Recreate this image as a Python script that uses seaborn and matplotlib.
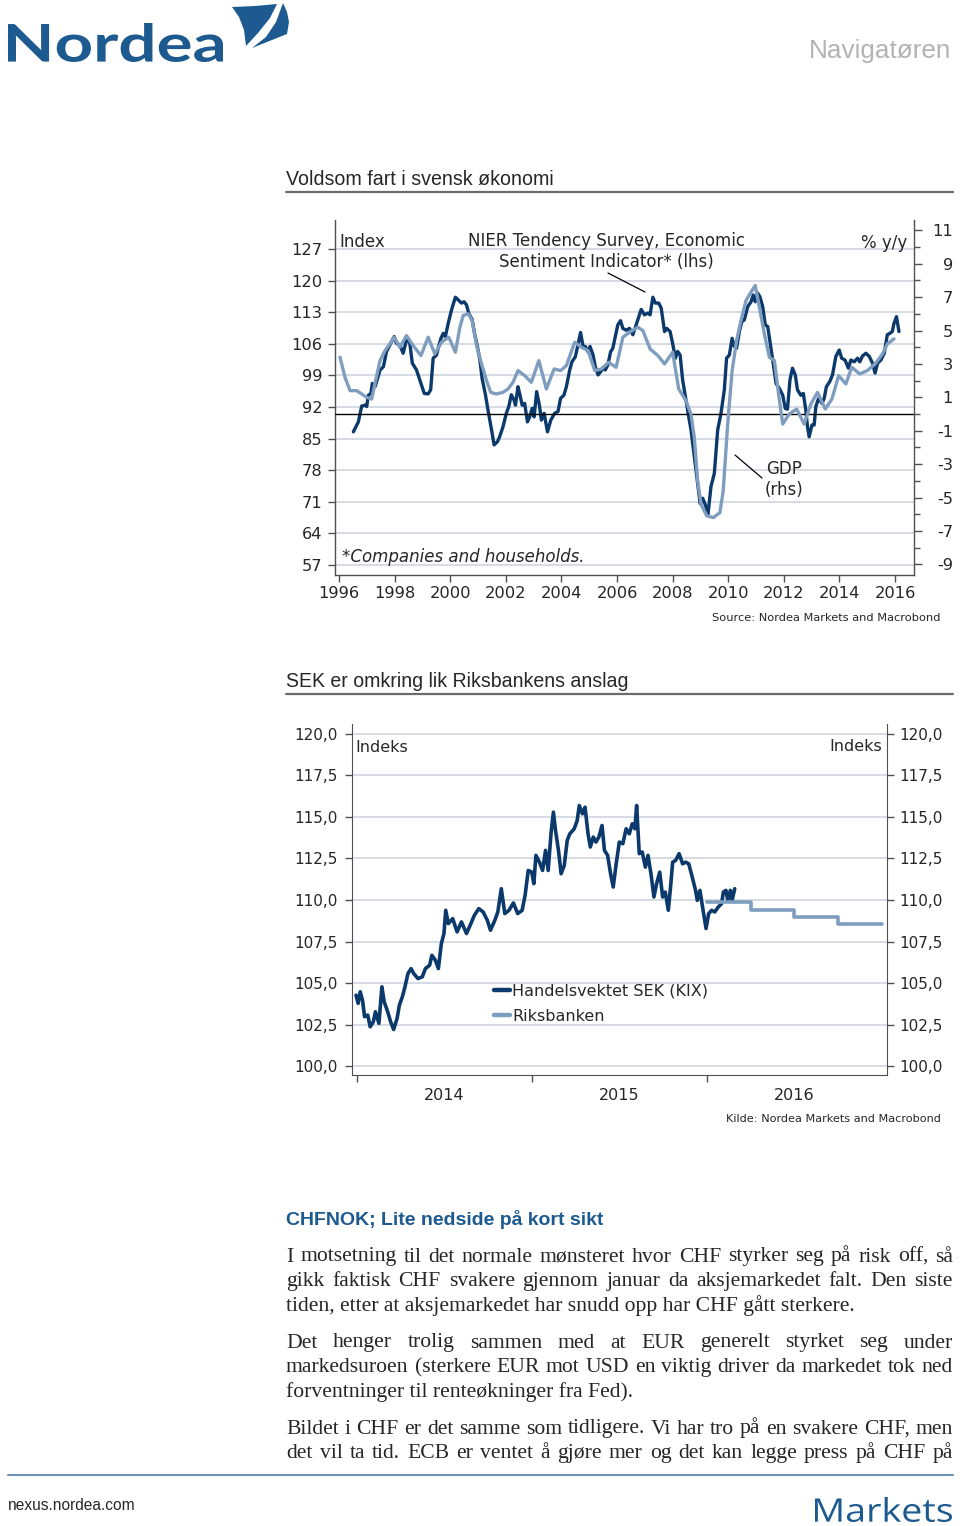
import matplotlib
matplotlib.use("Agg")
import matplotlib.pyplot as plt
import numpy as np
import pandas as pd
import seaborn as sns
from matplotlib.lines import Line2D
from matplotlib.patches import Polygon, PathPatch
from matplotlib.textpath import TextPath
from matplotlib.font_manager import FontProperties
from matplotlib.transforms import Affine2D
from matplotlib.ticker import FixedLocator

W, H = 960, 1526

# --- chart 1: NIER economic sentiment (lhs) vs GDP % y/y (rhs) ---
esi_year = [1996.52, 1996.70, 1996.82, 1996.94, 1997.00, 1997.06, 1997.15, 1997.20, 1997.30, 1997.39,
            1997.48, 1997.60, 1997.71, 1997.83, 1997.99, 1998.07, 1998.19, 1998.31, 1998.40, 1998.47,
            1998.55, 1998.64, 1998.79, 1998.95, 1999.07, 1999.21, 1999.30, 1999.39, 1999.51, 1999.57,
            1999.67, 1999.75, 1999.83, 1999.93, 2000.05, 2000.19, 2000.31, 2000.41, 2000.50, 2000.59,
            2000.67, 2000.79, 2000.89, 2000.98, 2001.07, 2001.15, 2001.27, 2001.37, 2001.49, 2001.58,
            2001.70, 2001.78, 2001.90, 2002.02, 2002.11, 2002.20, 2002.30, 2002.35, 2002.44, 2002.51,
            2002.59, 2002.68, 2002.78, 2002.86, 2002.95, 2003.02, 2003.11, 2003.21, 2003.28, 2003.38,
            2003.50, 2003.62, 2003.76, 2003.88, 2003.97, 2004.09, 2004.18, 2004.30, 2004.38, 2004.50,
            2004.57, 2004.69, 2004.78, 2004.86, 2004.96, 2005.03, 2005.14, 2005.22, 2005.32, 2005.41,
            2005.50, 2005.58, 2005.67, 2005.77, 2005.85, 2005.94, 2006.03, 2006.13, 2006.21, 2006.33,
            2006.45, 2006.57, 2006.69, 2006.87, 2006.99, 2007.11, 2007.19, 2007.29, 2007.38, 2007.50,
            2007.59, 2007.71, 2007.79, 2007.91, 2008.00, 2008.10, 2008.18, 2008.27, 2008.36, 2008.48,
            2008.58, 2008.66, 2008.78, 2008.90, 2008.99, 2009.08, 2009.18, 2009.27, 2009.38, 2009.50,
            2009.62, 2009.74, 2009.86, 2009.94, 2010.04, 2010.14, 2010.22, 2010.30, 2010.40, 2010.49,
            2010.58, 2010.70, 2010.82, 2010.90, 2010.97, 2011.06, 2011.14, 2011.24, 2011.33, 2011.42,
            2011.50, 2011.60, 2011.72, 2011.84, 2011.96, 2012.05, 2012.13, 2012.22, 2012.31, 2012.41,
            2012.49, 2012.61, 2012.70, 2012.79, 2012.85, 2012.91, 2013.01, 2013.09, 2013.15, 2013.25,
            2013.37, 2013.45, 2013.53, 2013.65, 2013.75, 2013.87, 2013.99, 2014.08, 2014.20, 2014.32,
            2014.41, 2014.53, 2014.65, 2014.73, 2014.83, 2014.95, 2015.07, 2015.19, 2015.28, 2015.37,
            2015.49, 2015.61, 2015.72, 2015.81, 2015.90, 2015.96, 2016.05, 2016.14]
esi_value = [86.5, 88.7, 92.2, 92.4, 92.1, 94.6, 95.0, 97.2, 96.5, 98.3,
             100.2, 100.9, 104.2, 105.7, 107.6, 106.1, 105.7, 103.9, 106.1, 107.2,
             106.1, 101.7, 100.2, 97.2, 95.0, 94.9, 95.8, 102.8, 103.5, 105.0,
             107.2, 108.3, 107.6, 110.5, 113.5, 116.3, 115.6, 115.0, 115.3, 114.6,
             112.7, 111.4, 107.9, 105.4, 102.4, 98.3, 94.7, 91.0, 86.9, 83.6,
             84.3, 85.4, 87.6, 90.6, 92.1, 94.7, 93.5, 92.4, 96.5, 94.7,
             92.4, 92.8, 88.7, 89.8, 91.7, 89.8, 95.4, 92.4, 89.1, 90.6,
             86.5, 89.1, 90.6, 91.0, 93.9, 94.6, 96.5, 100.2, 102.0, 103.1,
             105.0, 108.5, 105.4, 105.4, 104.2, 105.4, 103.5, 100.9, 99.1, 99.8,
             100.6, 100.2, 101.3, 104.2, 105.0, 107.6, 110.2, 111.1, 109.4, 109.0,
             109.4, 108.0, 110.2, 113.6, 112.4, 112.8, 112.4, 116.3, 115.0, 115.0,
             113.9, 108.7, 109.4, 108.7, 106.1, 102.8, 104.3, 103.5, 98.0, 93.5,
             89.8, 87.0, 81.0, 75.1, 70.6, 71.8, 70.3, 68.1, 74.4, 77.3,
             86.9, 90.6, 95.8, 102.8, 103.5, 107.2, 105.4, 105.0, 108.7, 110.9,
             111.3, 114.2, 115.3, 116.8, 115.3, 117.2, 116.4, 114.2, 110.2, 109.8,
             106.5, 102.4, 97.2, 96.1, 94.6, 91.7, 91.5, 98.0, 100.6, 99.1,
             95.8, 94.6, 95.0, 91.3, 87.6, 85.4, 88.0, 88.0, 92.1, 93.9,
             92.8, 93.9, 96.5, 97.6, 99.1, 103.2, 104.6, 102.8, 102.4, 100.6,
             102.4, 102.0, 102.8, 102.0, 103.3, 103.9, 103.2, 101.7, 99.5, 101.7,
             102.4, 103.9, 108.0, 108.3, 108.7, 110.5, 112.0, 108.7]

gdp_year = [1996.04, 1996.22, 1996.40, 1996.64, 1996.82, 1997.00, 1997.18, 1997.32, 1997.48, 1997.66,
            1997.83, 1997.99, 1998.19, 1998.43, 1998.67, 1998.95, 1999.21, 1999.45, 1999.69, 1999.95,
            2000.19, 2000.35, 2000.47, 2000.65, 2000.79, 2000.95, 2001.13, 2001.31, 2001.46, 2001.66,
            2001.90, 2002.08, 2002.26, 2002.44, 2002.68, 2002.92, 2003.19, 2003.46, 2003.74, 2003.97,
            2004.18, 2004.48, 2004.72, 2004.96, 2005.20, 2005.44, 2005.70, 2005.97, 2006.21, 2006.45,
            2006.75, 2006.93, 2007.19, 2007.47, 2007.71, 2008.00, 2008.22, 2008.48, 2008.66, 2008.78,
            2008.90, 2009.02, 2009.23, 2009.47, 2009.70, 2009.82, 2009.98, 2010.14, 2010.30, 2010.46,
            2010.64, 2010.82, 2010.97, 2011.12, 2011.30, 2011.48, 2011.66, 2011.81, 2011.96, 2012.19,
            2012.46, 2012.73, 2012.97, 2013.21, 2013.49, 2013.73, 2013.97, 2014.23, 2014.44, 2014.73,
            2015.00, 2015.28, 2015.55, 2015.72, 2015.96]
gdp_value = [3.4, 2.2, 1.4, 1.4, 1.2, 1.0, 0.9, 2.0, 3.2, 3.8,
             4.2, 4.6, 4.0, 4.7, 4.1, 3.5, 4.6, 3.6, 4.3, 4.6,
             3.7, 5.2, 5.9, 6.0, 5.6, 4.1, 3.0, 2.0, 1.3, 1.2,
             1.3, 1.5, 1.9, 2.6, 2.3, 1.9, 3.2, 1.5, 2.7, 2.6,
             2.9, 4.3, 4.0, 3.8, 2.6, 2.7, 3.1, 2.8, 4.6, 4.9,
             5.2, 5.0, 3.9, 3.5, 3.0, 3.7, 1.5, 0.8, 0.0, -1.4,
             -4.0, -5.4, -6.1, -6.2, -5.9, -4.6, -0.6, 2.6, 4.4, 5.6,
             6.8, 7.3, 7.7, 6.4, 4.8, 3.4, 3.2, 1.2, -0.6, 0.0,
             0.3, -0.6, 0.6, 1.3, 0.3, 0.9, 2.3, 1.8, 2.8, 2.4,
             2.6, 3.0, 3.6, 4.2, 4.5]

esi_ticks = [57, 64, 71, 78, 85, 92, 99, 106, 113, 120, 127]
gdp_ticks = [-9, -7, -5, -3, -1, 1, 3, 5, 7, 9, 11]
year_ticks = [1996, 1998, 2000, 2002, 2004, 2006, 2008, 2010, 2012, 2014, 2016]

# --- chart 2: trade weighted SEK (KIX) vs Riksbank forecast ---
kix_year = [2013.993, 2014.005, 2014.017, 2014.030, 2014.042, 2014.060, 2014.074, 2014.092, 2014.104, 2014.124,
            2014.141, 2014.154, 2014.174, 2014.191, 2014.208, 2014.228, 2014.241, 2014.258, 2014.273, 2014.290,
            2014.308, 2014.323, 2014.347, 2014.372, 2014.390, 2014.414, 2014.427, 2014.447, 2014.464, 2014.481,
            2014.496, 2014.506, 2014.521, 2014.546, 2014.571, 2014.596, 2014.625, 2014.650, 2014.670, 2014.695,
            2014.720, 2014.744, 2014.762, 2014.787, 2014.804, 2014.824, 2014.844, 2014.868, 2014.893, 2014.918,
            2014.943, 2014.960, 2014.978, 2014.998, 2015.010, 2015.022, 2015.042, 2015.060, 2015.077, 2015.092,
            2015.109, 2015.122, 2015.134, 2015.151, 2015.166, 2015.184, 2015.201, 2015.216, 2015.241, 2015.258,
            2015.270, 2015.288, 2015.303, 2015.320, 2015.333, 2015.350, 2015.365, 2015.382, 2015.400, 2015.414,
            2015.432, 2015.449, 2015.464, 2015.481, 2015.499, 2015.519, 2015.538, 2015.556, 2015.573, 2015.588,
            2015.598, 2015.613, 2015.630, 2015.648, 2015.663, 2015.680, 2015.697, 2015.712, 2015.730, 2015.747,
            2015.762, 2015.779, 2015.792, 2015.804, 2015.821, 2015.841, 2015.861, 2015.878, 2015.896, 2015.916,
            2015.935, 2015.945, 2015.960, 2015.978, 2015.995, 2016.010, 2016.027, 2016.045, 2016.065, 2016.084,
            2016.094, 2016.109, 2016.119, 2016.134, 2016.144, 2016.159]
kix_value = [104.27, 103.77, 104.47, 103.97, 102.97, 103.07, 102.36, 102.67, 103.27, 102.57,
             104.77, 103.87, 103.27, 102.67, 102.20, 102.87, 103.67, 104.17, 104.77, 105.57,
             105.87, 105.57, 105.27, 105.37, 105.87, 106.07, 106.67, 106.37, 105.87, 107.37,
             107.98, 109.38, 108.58, 108.88, 108.08, 108.68, 107.98, 108.58, 109.08, 109.48,
             109.28, 108.78, 108.18, 108.78, 109.28, 110.68, 109.18, 109.38, 109.82, 109.18,
             109.38, 110.28, 111.78, 111.68, 110.98, 112.69, 112.28, 111.78, 112.99, 111.78,
             114.09, 115.29, 114.19, 112.99, 111.58, 112.08, 113.59, 113.99, 114.29, 114.79,
             115.69, 115.19, 115.59, 113.99, 113.19, 113.79, 113.49, 113.79, 114.49, 112.99,
             112.69, 111.58, 110.78, 112.18, 113.49, 113.39, 114.29, 113.99, 114.59, 114.29,
             115.69, 112.79, 112.89, 111.98, 112.69, 111.58, 110.18, 110.98, 111.68, 110.18,
             110.48, 109.38, 110.78, 112.28, 112.38, 112.79, 112.18, 112.28, 112.18, 111.38,
             110.58, 109.98, 110.58, 109.38, 108.28, 109.18, 109.38, 109.28, 109.58, 109.78,
             110.48, 110.58, 109.98, 110.58, 109.98, 110.68]

rb_year = [2016.0, 2016.25, 2016.5, 2016.75, 2017.0]
rb_value = [109.85, 109.4, 108.95, 108.55, 108.55]

sek_ticks = [100.0, 102.5, 105.0, 107.5, 110.0, 112.5, 115.0, 117.5, 120.0]
sek_year_bounds = [2014, 2015, 2016]
sek_year_labels = ["2014", "2015", "2016"]

body = [
    ["I motsetning til det normale mønsteret hvor CHF styrker seg på risk off, så",
     "gikk faktisk CHF svakere gjennom januar da aksjemarkedet falt. Den siste",
     "tiden, etter at aksjemarkedet har snudd opp har CHF gått sterkere."],
    ["Det henger trolig sammen med at EUR generelt styrket seg under",
     "markedsuroen (sterkere EUR mot USD en viktig driver da markedet tok ned",
     "forventninger til renteøkninger fra Fed)."],
    ["Bildet i CHF er det samme som tidligere. Vi har tro på en svakere CHF, men",
     "det vil ta tid. ECB er ventet å gjøre mer og det kan legge press på CHF på"],
]

DARK = "#0c396c"
LIGHT = "#7f9dbf"
GRID = "#d6dce4"
SPINE = "#505050"
BLUE = "#1d5a90"

sns.set_style("ticks")
plt.rcParams["font.family"] = ["DejaVu Sans"]
plt.rcParams["axes.unicode_minus"] = False

fig = plt.figure(figsize=(W / 100, H / 100), dpi=100)
renderer = fig.canvas.get_renderer()


def fx(x):
    return x / W


def fy(y):
    return 1 - y / H


def rect(l, t, r, b):
    return [l / W, 1 - b / H, (r - l) / W, (b - t) / H]


def fit_text(x, y, s, width, ha="left", **kw):
    t = fig.text(fx(x), fy(y), s, ha=ha, va="baseline", fontsize=10, **kw)
    w = t.get_window_extent(renderer).width
    t.set_fontsize(10 * width / w)
    return t


def path_text(s, x0, x1, ytop, ybot, prop, color):
    tp = TextPath((0, 0), s, size=100, prop=prop)
    bb = tp.get_extents()
    sx = (x1 - x0) / bb.width
    sy = (ybot - ytop) / bb.height
    tr = (Affine2D().translate(-bb.x0, -bb.y0).scale(sx / W, sy / H)
          .translate(fx(x0), fy(ybot)) + fig.transFigure)
    fig.add_artist(PathPatch(tp, transform=tr, fc=color, ec="none"))


def hline(x0, x1, y, color, lw):
    fig.add_artist(Line2D([fx(x0), fx(x1)], [fy(y), fy(y)], color=color, lw=lw,
                          transform=fig.transFigure))


def seg(x0, y0, x1, y1):
    fig.add_artist(Line2D([fx(x0), fx(x1)], [fy(y0), fy(y1)], color="black", lw=0.9,
                          transform=fig.transFigure))


# ---------------- header ----------------
path_text("Nordea", 8, 223, 23, 62, FontProperties(family="Lato", weight="bold"), BLUE)
sail_a = np.array([(232, 7), (255, 6), (277, 4), (270, 18), (258, 33), (246, 46), (244, 30), (239, 17)], float)
sail_b = np.array([(283, 3), (287, 12), (289, 22), (287, 34), (252, 48), (266, 37), (276, 22)], float)
for s in (sail_a, sail_b):
    fig.add_artist(Polygon(np.column_stack([s[:, 0] / W, 1 - s[:, 1] / H]), closed=True,
                           fc=BLUE, ec="none", transform=fig.transFigure))
fit_text(951, 58, "Navigatøren", 143, ha="right", color="#b3b3b3",
         family=["Liberation Sans Narrow", "Liberation Sans"])

# ---------------- chart 1 ----------------
fit_text(286, 185, "Voldsom fart i svensk økonomi", 267, family=["Liberation Sans"])
hline(286, 953, 192, "#6b6b6b", 1.6)

ax1 = fig.add_axes(rect(335, 220, 914, 575))
ax1.set_facecolor("none")
sns.lineplot(x=esi_year, y=esi_value, ax=ax1, color=DARK, lw=2.4)
ax1.set_xlim(1995.86, 2016.68)
ax1.set_ylim(54.8, 133.4)
ax1.set_yticks(esi_ticks)
ax1.set_xticks(year_ticks)
ax1.yaxis.grid(True, color=GRID, lw=1.4)
ax1.set_axisbelow(True)
ax1.tick_params(axis="y", length=5, width=1, color=SPINE, labelsize=11.7, pad=4)
ax1.tick_params(axis="x", length=5, width=1, color=SPINE, labelsize=11.7, pad=3)
for side in ("top", "right"):
    ax1.spines[side].set_visible(False)
for side in ("left", "bottom"):
    ax1.spines[side].set_color(SPINE)
    ax1.spines[side].set_linewidth(1)
ax1.set_xlabel("")
ax1.set_ylabel("")

ax1r = ax1.twinx()
ax1r.axhline(0, color="black", lw=1.0, zorder=1)
sns.lineplot(x=gdp_year, y=gdp_value, ax=ax1r, color=LIGHT, lw=2.4, zorder=3)
ax1r.set_ylim(-9.64, 11.62)
ax1r.set_yticks(gdp_ticks)
ax1r.yaxis.set_minor_locator(FixedLocator([-8, -6, -4, -2, 0, 2, 4, 6, 8, 10]))
ax1r.tick_params(axis="y", which="major", length=6, width=1, color=SPINE, labelsize=11.7, pad=22)
ax1r.tick_params(axis="y", which="minor", length=4, width=1, color=SPINE)
for lab in ax1r.get_yticklabels():
    lab.set_horizontalalignment("right")
for side in ("top", "left", "bottom"):
    ax1r.spines[side].set_visible(False)
ax1r.spines["right"].set_color(SPINE)
ax1r.spines["right"].set_linewidth(1)
ax1r.set_ylabel("")

fig.text(fx(339), fy(247), "Index", fontsize=12, va="baseline")
fig.text(fx(907), fy(248), "% y/y", fontsize=12, va="baseline", ha="right")
fig.text(fx(607), fy(246), "NIER Tendency Survey, Economic", fontsize=12, va="baseline", ha="center")
fig.text(fx(606), fy(267), "Sentiment Indicator* (lhs)", fontsize=12, va="baseline", ha="center")
seg(608, 273, 645, 292)
fig.text(fx(784), fy(474), "GDP", fontsize=12, va="baseline", ha="center")
fig.text(fx(784), fy(495), "(rhs)", fontsize=12, va="baseline", ha="center")
seg(735, 455, 762, 478)
fig.text(fx(342), fy(562), "*Companies and households.", fontsize=12, va="baseline", style="italic")
fit_text(941, 621, "Source: Nordea Markets and Macrobond", 228, ha="right")

# ---------------- chart 2 ----------------
fit_text(286, 687, "SEK er omkring lik Riksbankens anslag", 342, family=["Liberation Sans"])
hline(286, 953, 694, "#6b6b6b", 1.6)

ax2 = fig.add_axes(rect(352, 724, 887, 1075))
sns.lineplot(x=kix_year, y=kix_value, ax=ax2, color=DARK, lw=2.6, label="Handelsvektet SEK (KIX)")
sns.lineplot(x=rb_year, y=rb_value, ax=ax2, color=LIGHT, lw=2.6, drawstyle="steps-post",
             label="Riksbanken")
ax2.set_xlim(2013.97, 2017.03)
ax2.set_ylim(99.46, 120.6)
ax2.set_yticks(sek_ticks)
ax2.set_yticklabels([f"{v:.1f}".replace(".", ",") for v in sek_ticks])
ax2.yaxis.grid(True, color=GRID, lw=1.4)
ax2.set_axisbelow(True)
ax2.set_xticks(sek_year_bounds)
ax2.set_xticklabels([])
ax2.set_xticks([y + 0.5 for y in sek_year_bounds], minor=True)
ax2.set_xticklabels(sek_year_labels, minor=True)
ax2.tick_params(axis="x", which="major", length=5, width=1, color=SPINE)
ax2.tick_params(axis="x", which="minor", length=0, labelsize=11.5, pad=9)
ax2.tick_params(axis="y", length=5, width=1, color=SPINE, labelsize=11, pad=5)
for side in ("top", "right"):
    ax2.spines[side].set_visible(False)
for side in ("left", "bottom"):
    ax2.spines[side].set_color(SPINE)
ax2.set_xlabel("")
ax2.set_ylabel("")
leg = ax2.legend(loc="upper left", bbox_to_anchor=(fx(494), fy(984)), bbox_transform=fig.transFigure,
                 frameon=False, fontsize=11.5, handlelength=1.0, handletextpad=0.15,
                 labelspacing=0.6, borderpad=0, borderaxespad=0)
for h in leg.get_lines():
    h.set_linewidth(3.2)

ax2r = ax2.twinx()
ax2r.set_ylim(99.46, 120.6)
ax2r.set_yticks(sek_ticks)
ax2r.set_yticklabels([f"{v:.1f}".replace(".", ",") for v in sek_ticks])
ax2r.tick_params(axis="y", length=5, width=1, color=SPINE, labelsize=11, pad=4)
for side in ("top", "left", "bottom"):
    ax2r.spines[side].set_visible(False)
ax2r.spines["right"].set_color(SPINE)

fig.text(fx(355), fy(752), "Indeks", fontsize=11.5, va="baseline")
fig.text(fx(882), fy(751), "Indeks", fontsize=11.5, va="baseline", ha="right")
fit_text(941, 1122, "Kilde: Nordea Markets and Macrobond", 215, ha="right")

# ---------------- body text ----------------
fit_text(286, 1225, "CHFNOK; Lite nedside på kort sikt", 319, color=BLUE, weight="bold",
         family=["Liberation Sans"])

serif = dict(family=["Liberation Serif", "DejaVu Serif"], fontsize=15.6, va="baseline")
baselines = [[1261.5, 1286, 1310.5], [1347.5, 1372, 1396.5], [1433.5, 1458]]
X0, X1 = 286, 953
for p, para in enumerate(body):
    for i, line in enumerate(para):
        if i == len(para) - 1 and p < 2:
            # last line of a paragraph is left aligned
            fig.text(fx(X0), fy(baselines[p][i]), line, **serif)
            continue
        words = line.split(" ")
        texts = [fig.text(0, 0, w, **serif) for w in words]
        widths = [t.get_window_extent(renderer).width for t in texts]
        gap = (X1 - X0 - sum(widths)) / (len(words) - 1)
        x = X0
        for t, w in zip(texts, widths):
            t.set_position((fx(x), fy(baselines[p][i])))
            x += w + gap

# ---------------- footer ----------------
hline(8, 953, 1475, "#6f92bb", 1.5)
fit_text(8, 1510, "nexus.nordea.com", 128, family=["Liberation Sans"])
path_text("Markets", 815, 952, 1497, 1522, FontProperties(family="Open Sans"), BLUE)

fig.savefig("out.png", dpi=100)
